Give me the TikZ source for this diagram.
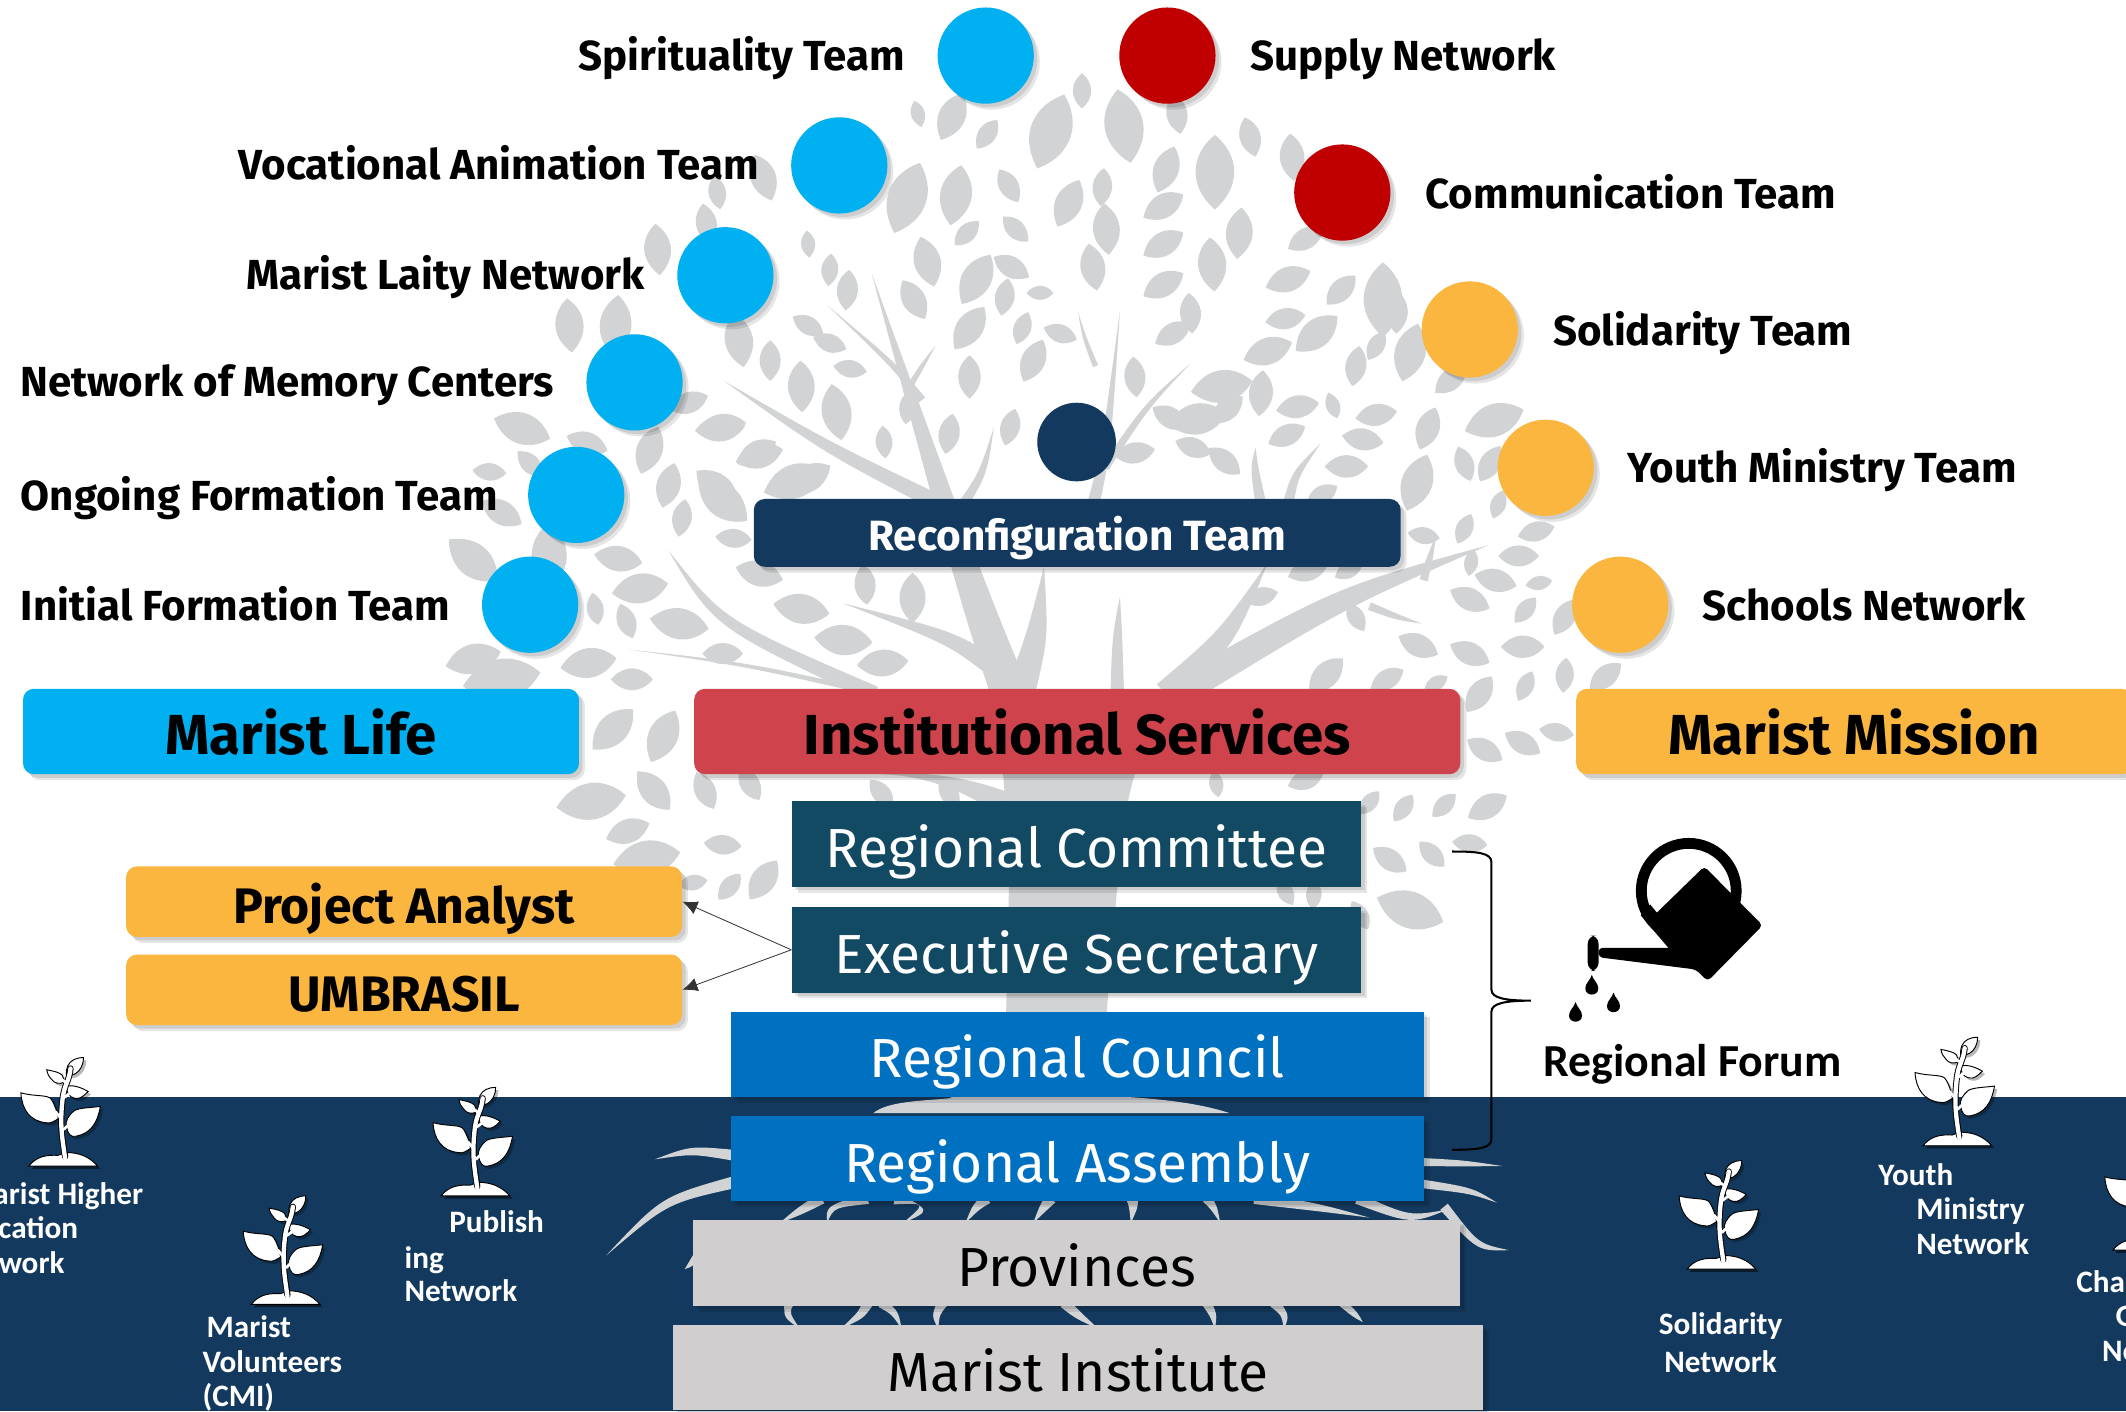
\documentclass[tikz,border=0pt]{standalone}
\usepackage{fontspec}
\setmainfont{Fira Sans}
\newfontfamily\carl{Carlito}
\usetikzlibrary{calc,shadows,arrows.meta}
\definecolor{navy}{HTML}{133A5E}
\definecolor{teal}{HTML}{134A63}
\definecolor{cyanb}{HTML}{00B0F0}
\definecolor{redb}{HTML}{C00000}
\definecolor{rose}{HTML}{CE434C}
\definecolor{amber}{HTML}{FBB640}
\definecolor{blueb}{HTML}{0070C0}
\definecolor{greyb}{HTML}{D0CECE}
\definecolor{treeg}{HTML}{D1D3D4}
\tikzset{
 x=0.5pt,y=-0.5pt,
 softsh/.style={general shadow={shadow xshift=1.3pt,shadow yshift=-1.3pt,fill=black,opacity=.10},
                general shadow={shadow xshift=2.2pt,shadow yshift=-2.2pt,fill=black,opacity=.10}},
 dot/.style={circle,minimum size=35.5pt,inner sep=0pt,softsh},
 lab/.style={font=\fontsize{15.5}{17}\selectfont\bfseries,inner sep=0pt,text=black,text height=13pt,text depth=2.3pt},
 head/.style={rounded corners=4pt,minimum width=205pt,minimum height=31.5pt,inner sep=0pt,softsh,
   font=\fontsize{20.8}{24}\selectfont\bfseries,text=black,text height=19pt,text depth=2.1pt},
 tier/.style={minimum height=31.5pt,inner sep=0pt,softsh,font=\fontsize{20.3}{24}\selectfont,text=white,text height=20pt,text depth=2.5pt},
 side/.style={fill=amber,rounded corners=4pt,minimum width=205pt,minimum height=26pt,inner sep=0pt,softsh,
   font=\fontsize{18.4}{21}\selectfont\bfseries,text=black,text height=17pt,text depth=1.2pt},
 plab/.style={font=\carl\fontsize{11.5}{13}\selectfont\bfseries,text=white,inner sep=0pt,text height=9pt,text depth=1.8pt},
 plantp/.style={fill=white,draw=black,line width=.35pt},
 plantline/.style={draw=white,line width=1.6pt,line cap=round},
 plantsh/.style={general shadow={shadow xshift=1pt,shadow yshift=-1pt,fill=black,opacity=.28}},
 thinarr/.style={draw=black!80,line width=.3pt,-{Latex[length=5.5pt,width=5pt]}},
 pics/plant/.style={code={
  \fill[black,opacity=.3,shift={(2,2)}] (-24.7,0) .. controls (-15,-9) and (-10,-6) .. (-5,-6) .. controls (3,-11) and (15,-9) .. (26,0) -- cycle;
  \path[plantp,plantsh] (-30.6,-54) .. controls (-20,-51) and (-10,-53) .. (-8,-49) .. controls (-5,-44) and (-4,-40) .. (-3,-35) .. controls (-6,-33) and (-9,-31) .. (-12,-32) .. controls (-24,-33) and (-30,-42) .. (-30.6,-54) -- cycle;
  \path[plantp,plantsh] (28,-44) .. controls (20,-43) and (13,-43) .. (9,-41) .. controls (4,-37) and (2,-33) .. (3,-29) .. controls (4,-24) and (6,-21) .. (10,-22) .. controls (21,-24) and (26,-32) .. (28,-44) -- cycle;
  \path[plantp,plantsh] (3,-59) .. controls (8,-60) and (14,-58) .. (19,-55) .. controls (16,-52) and (13,-49) .. (9,-50) .. controls (5,-51) and (3,-54) .. (3,-59) -- cycle;
  \path[plantp,plantsh] (-11.5,-71) .. controls (-6,-70) and (-2,-69) .. (0,-67) .. controls (1,-65) and (1,-64) .. (1.6,-62) .. controls (-2,-60) and (-6,-61) .. (-8,-64) .. controls (-10,-66) and (-11,-68) .. (-11.5,-71) -- cycle;
  \path[plantp,plantsh] (15.5,-80) .. controls (10,-80) and (6,-78) .. (4,-74) .. controls (3,-72) and (3,-70) .. (3,-67) .. controls (8,-66) and (12,-69) .. (14,-73) .. controls (15,-75) and (15.5,-77) .. (15.5,-80) -- cycle;
  \path[plantp,plantsh] (-24.7,0) .. controls (-20,-6) and (-14,-8) .. (-6,-8) .. controls (-2,-7) and (0,-10) .. (3,-10) .. controls (12,-10) and (20,-7) .. (26,0) -- cycle;
  \path[draw=black,line width=2.3pt,line cap=round] (2,-7) .. controls (0,-20) and (-2,-30) .. (0,-48) .. controls (1,-60) and (5,-62) .. (6,-72);
  \path[plantline] (2,-6) .. controls (0,-20) and (-2,-30) .. (0,-48) .. controls (1,-60) and (5,-62) .. (6,-72);
  \path[plantline,line width=1pt] (-1,-35) -- (-5,-40) (1,-27) -- (5,-31) (0.5,-50) -- (6,-54) (2,-62) -- (-3,-66);
 }},
}
\newcommand\br[4]{\fill[treeg] ($(#1)!#4!90:(#2)$) .. controls ($(#2)!{0.75*#4}!90:(#3)$) .. (#3) .. controls ($(#2)!{0.75*#4}!-90:(#3)$) .. ($(#1)!#4!-90:(#2)$) -- cycle;}
\newcommand\rt[4]{\br{#1}{#2}{#3}{#4}}
\begin{document}
\begin{tikzpicture}
\useasboundingbox (0,0) rectangle (1568,1041);
\clip (0,0) rectangle (1568,1041);
\fill[white] (0,0) rectangle (1568,1041);
\fill[navy] (0,809) rectangle (1568,1041);
% leaves
\foreach \x/\y/\a/\l in {
798/67/90/26,829/93/100/55,775/97/70/58,702/86/65/38,728/99/55/26,677/84/105/20,922/101/105/30,953/116/95/35,896/127/90/55,860/125/70/36,868/84/100/30,813/138/85/28,
705/144/80/45,744/137/120/28,669/146/70/55,788/150/65/38,816/169/95/38,749/169/135/26,713/172/45/25,858/152/30/34,858/180/30/34,914/172/85/38,950/206/20/35,1020/221/90/55,963/176/30/30,
894/195/95/40,858/210/30/34,878/231/95/30,948/235/10/30,989/214/45/30,971/246/40/40,935/259/20/38,865/246/30/30,782/246/-20/26,754/242/70/25,715/242/55/38,746/197/150/30,720/206/60/42,806/197/100/35,
767/216/0/20,674/221/120/33,741/219/80/28,684/193/105/38,625/214/85/30,596/180/95/20,612/199/85/24,762/266/65/34,715/278/90/32,837/278/95/30,901/285/10/46,863/308/-30/30,837/334/10/30,
529/142/100/25,563/131/110/36,485/184/95/38,521/165/100/30,420/240/95/40,454/240/85/45,545/251/100/40,591/285/92/38,568/266/90/30,612/253/-20/26,627/272/-10/25,508/297/20/30,532/315/10/37,558/334/30/33,596/353/30/38,529/360/-40/40,617/304/100/42,
596/240/-30/26,670/300/80/26,700/320/80/30,745/315/75/28,880/330/-20/28,905/302/40/30,930/290/85/34,
385/316/-20/44,433/327/-20/32,531/316/5/37,560/336/15/36,652/326/95/24,479/332/70/37,493/358/75/34,503/382/80/28,533/369/-40/47,586/355/20/48,541/397/-5/27,560/423/-15/36,361/348/-5/25,391/342/-45/26,370/378/-30/34,349/413/-40/47,405/410/90/50,456/412/-10/36,472/434/10/42,439/449/-80/24,462/458/-70/27,501/460/-10/44,533/482/0/30,349/486/15/42,434/489/10/42,466/501/0/31,370/501/10/58,591/449/-10/42,622/472/-5/43,651/489/5/38,638/431/-85/30,673/441/90/37,
452/538/45/42,489/543/65/42,436/591/10/52,482/583/-50/37,520/583/-65/30,553/578/-60/28,463/613/20/34,533/623/-5/28,477/633/10/50,511/651/10/22,538/654/50/25,563/649/55/35,
883/309/10/44,957/300/10/32,1015/306/10/31,983/299/-70/20,949/321/25/30,1005/324/-10/31,993/344/0/32,1053/316/70/33,1102/310/20/46,903/340/-40/30,1080/342/-70/27,1045/356/70/44,1099/342/60/30,1105/372/70/22,1080/390/65/24,1133/392/15/28,1120/410/0/30,1103/428/-15/32,1084/442/-25/32,1125/450/50/24,1154/455/60/30,1046/476/-25/32,1084/482/-25/32,1123/477/0/32,1154/498/85/26,1125/506/65/24,1184/499/40/30,978/498/45/35,1023/501/30/28,1059/504/30/20,1091/512/55/32,1095/553/-30/30,1123/548/-30/30,1148/540/-10/26,1010/592/50/22,1035/596/55/24,1065/594/45/24,1097/595/30/33,1084/622/-5/26,1025/634/-35/30,1056/630/-45/26,1040/671/-20/52,1003/675/-60/24,969/660/85/22,948/658/-60/22,897/578/-80/20,963/575/20/28,
1000/270/80/30,1040/260/75/44,1070/280/40/30,1030/230/90/32,930/440/15/26,965/420/20/32,1000/405/80/28,1000/455/-60/24,600/560/-60/24,650/585/-50/26,700/585/-60/26,995/420/30/24,
1015/255/60/24,1135/430/10/20,1085/415/80/20,975/365/30/26,1010/385/30/30,1050/395/-10/24}
 {\fill[treeg,shift={(\x,\y)},rotate=\a] (-\l/2,0) .. controls (-\l/6,\l*.38) and (\l/4,\l*.31) .. (\l/2,0) .. controls (\l/4,-\l*.31) and (-\l/6,-\l*.38) .. (-\l/2,0) -- cycle;}
% trunk and branches
\fill[treeg] (735,512) .. controls (738,560) and (745,610) .. (744,660) -- (742,749) .. controls (741,790) and (725,800) .. (700,810) .. controls (680,812) and (655,812) .. (644,821) -- (907,821) .. controls (880,812) and (845,810) .. (831,809) .. controls (820,790) and (816,770) .. (816,749) -- (824,654) .. controls (826,600) and (840,550) .. (860,512) -- cycle;
\fill[treeg] (735,600) .. controls (710,582) and (680,572) .. (650,571) .. controls (685,568) and (720,575) .. (745,585) -- cycle;
\br{745,512}{715,430}{643,202}{7pt}
\br{690,370}{610,330}{534,281}{3pt}
\br{730,490}{700,470}{622,445}{3.5pt}
\br{645,512}{530,460}{493,406}{3pt}
\br{640,510}{550,490}{464,479}{1pt}
\br{752,512}{765,470}{770,418}{5.5pt}
\br{705,380}{725,350}{733,315}{2pt}
\br{800,395}{815,340}{826,229}{2.5pt}
\br{815,345}{845,300}{878,268}{1.5pt}
\br{680,295}{660,270}{610,225}{1.5pt}
\br{668,290}{680,270}{690,255}{1.2pt}
\br{808,270}{800,250}{795,230}{1pt}
\br{824,512}{824,470}{826,440}{2.5pt}
\br{870,510}{990,440}{1098,402}{5.5pt}
\br{860,512}{905,470}{935,415}{5pt}
\br{1010,447}{1030,455}{1049,460}{1.5pt}
\br{1050,428}{1055,410}{1059,395}{1.5pt}
\br{950,372}{955,350}{974,327}{2pt}
\br{930,372}{925,345}{926,330}{2pt}
% roots
\rt{541,852}{510,848}{483,855}{2pt}
\rt{541,872}{490,885}{447,926}{2.2pt}
\rt{1048,857}{1080,858}{1108,860}{1.5pt}
\rt{1048,873}{1085,878}{1104,887}{1.6pt}
\rt{1001,884}{1040,900}{1068,892}{2pt}
\rt{1065,890}{1090,920}{1113,922}{1.8pt}
\rt{925,884}{970,890}{1010,898}{2pt}
\rt{606,884}{590,893}{575,902}{2pt}
\rt{640,884}{612,890}{610,902}{2pt}
\rt{660,884}{685,890}{666,902}{2.2pt}
\rt{728,884}{720,890}{712,902}{2pt}
\rt{775,884}{770,890}{762,902}{2.2pt}
\rt{835,884}{836,890}{834,902}{2.2pt}
\rt{890,884}{895,890}{900,902}{1.8pt}
\rt{515,925}{510,932}{505,936}{1.5pt}
\rt{582,961}{580,970}{590,980}{1.8pt}
\rt{640,961}{635,970}{620,980}{2pt}
\rt{650,961}{660,968}{665,980}{1.8pt}
\rt{695,961}{690,970}{692,980}{2pt}
\rt{785,961}{795,970}{810,980}{2pt}
\rt{890,961}{895,970}{896,980}{1.8pt}
\rt{940,961}{948,970}{947,980}{2pt}
\rt{990,961}{1000,970}{1005,975}{1.5pt}
% circles
\node[dot,fill=cyanb] (c1) at (727,41) {};
\node[dot,fill=cyanb] (c2) at (619,122) {};
\node[dot,fill=cyanb] (c3) at (535,203) {};
\node[dot,fill=cyanb] (c4) at (468,282) {};
\node[dot,fill=cyanb] (c5) at (425,365) {};
\node[dot,fill=cyanb] (c6) at (391,446) {};
\node[dot,fill=redb] (r1) at (861,41) {};
\node[dot,fill=redb] (r2) at (990,142) {};
\node[dot,fill=amber] (o1) at (1084,243) {};
\node[dot,fill=amber] (o2) at (1140,345) {};
\node[dot,fill=amber] (o3) at (1195,446) {};
\node[circle,fill=navy,minimum size=29pt,inner sep=0pt] (nv) at (794,326) {};
% labels
\node[lab,anchor=east] (l1) at (668,41) {Spirituality Team};
\node[lab,anchor=east] (l2) at (560,122) {Vocational Animation Team};
\node[lab,anchor=east] (l3) at (476,203) {Marist Laity Network};
\node[lab,anchor=east] (l4) at (409,282) {Network of Memory Centers};
\node[lab,anchor=west] (l5) at (15,366) {Ongoing Formation Team};
\node[lab,anchor=west] (l6) at (15,447) {Initial Formation Team};
\node[lab,anchor=west] (l7) at (922,41) {Supply Network};
\node[lab,anchor=west] (l8) at (1051,143) {Communication Team};
\node[lab,anchor=west] (l9) at (1145,244) {Solidarity Team};
\node[lab,anchor=west] (l10) at (1200,345) {Youth Ministry Team};
\node[lab,anchor=west] (l11) at (1255,447) {Schools Network};
% boxes
\node[rounded corners=4pt,fill=navy,minimum width=238.5pt,minimum height=25pt,inner sep=0pt,softsh,text=white,font=\fontsize{15.6}{18}\selectfont\bfseries,text height=14pt,text depth=1.2pt] (recon) at (794.5,393) {Reconfiguration Team};
\node[head,fill=cyanb] (life) at (222,539.5) {Marist Life};
\node[head,fill=rose,minimum width=282.5pt] (inst) at (794.5,539.5) {Institutional Services};
\node[head,fill=amber] (miss) at (1367.5,539.5) {Marist Mission};
\node[tier,fill=teal,minimum width=210pt] (comm) at (794,622.5) {Regional Committee};
\node[tier,fill=teal,minimum width=210pt] (exec) at (794,700.5) {Executive Secretary};
\node[tier,fill=blueb,minimum width=255.5pt] (coun) at (794.5,777.5) {Regional Council};
\node[tier,fill=blueb,minimum width=255.5pt] (assy) at (794.5,854.5) {Regional Assembly};
\node[tier,fill=greyb,minimum width=283pt,text=black] (prov) at (794,931.5) {Provinces};
\node[tier,fill=greyb,minimum width=299pt,text=black] (inti) at (795,1008.5) {Marist Institute};
\node[side] (pa) at (298,665) {Project Analyst};
\node[side] (um) at (298,730) {UMBRASIL};
\draw[thinarr] (exec.west) -- (pa.east);
\draw[thinarr] (exec.west) -- (um.east);
% brace
\coordinate (bt) at (1071,628);
\coordinate (bb) at (1071,848);
\coordinate (bm) at (1129,738);
\draw[black,line width=.75pt] (bt) .. controls (1090,628) and (1100,629) .. (1100,636) -- (1100,730) .. controls (1100,736) and (1110,738) .. (bm) .. controls (1110,738) and (1100,740) .. (1100,746) -- (1100,840) .. controls (1100,847) and (1090,848) .. (bb);
% watering can
\fill[black,even odd rule] (1245.5,657) circle [radius=39] (1245.5,657) circle [radius=31];
\fill[black] (1210,675) -- (1217,667) -- (1240,695) -- (1233,702) -- cycle;
\fill[black,rounded corners=1.5pt] (1257,639) -- (1300,682.5) -- (1259.5,723.6) -- (1250.6,715) -- (1179,706) -- (1179,699) -- (1233,699) -- (1220,675) -- cycle;
\fill[black,rounded corners=3pt] (1171,690) rectangle (1179,716);
\foreach \dx/\dy in {1174/727,1162/747,1190/740}
 \fill[black,shift={(\dx,\dy)}] (0,-8) .. controls (1,-4) and (4.8,-2) .. (4.8,2) .. controls (4.8,8) and (-4.8,8) .. (-4.8,2) .. controls (-4.8,-2) and (-1,-4) .. (0,-8) -- cycle;
\node[font=\carl\fontsize{16.9}{19}\selectfont\bfseries,inner sep=0pt,anchor=west] (forum) at (1138,785) {Regional Forum};
% plants
\pic (p1) at (46,860) {plant};
\pic (p2) at (210,962) {plant};
\pic (p3) at (350,882) {plant};
\pic (p4) at (1269,936) {plant};
\pic (p5) at (1443,845) {plant};
\pic (p6) at (1583,922) {plant};
\node[plab,anchor=east] (t1) at (106,881) {Marist Higher};
\node[plab,anchor=east] (t2) at (58,906) {Education};
\node[plab,anchor=east] (t3) at (48,932) {Network};
\node[plab,anchor=west] (t4) at (152,979) {Marist};
\node[plab,anchor=west] (t5) at (149,1005) {Volunteers};
\node[plab,anchor=west] (t6) at (149,1030) {(CMI)};
\node[plab,anchor=west] (t7) at (331,902) {Publish};
\node[plab,anchor=west] (t8) at (298,928) {ing};
\node[plab,anchor=west] (t9) at (298,953) {Network};
\node[plab] (t10) at (1269,977) {Solidarity};
\node[plab] (t11) at (1269,1005) {Network};
\node[plab,anchor=west] (t12) at (1385,867) {Youth};
\node[plab,anchor=west] (t13) at (1413,892) {Ministry};
\node[plab,anchor=west] (t14) at (1413,918) {Network};
\node[plab,anchor=west] (t15) at (1531,946) {Champagnat};
\node[plab,anchor=west] (t16) at (1560,971) {Global};
\node[plab,anchor=west] (t17) at (1550,997) {Network};
\end{tikzpicture}
\end{document}
